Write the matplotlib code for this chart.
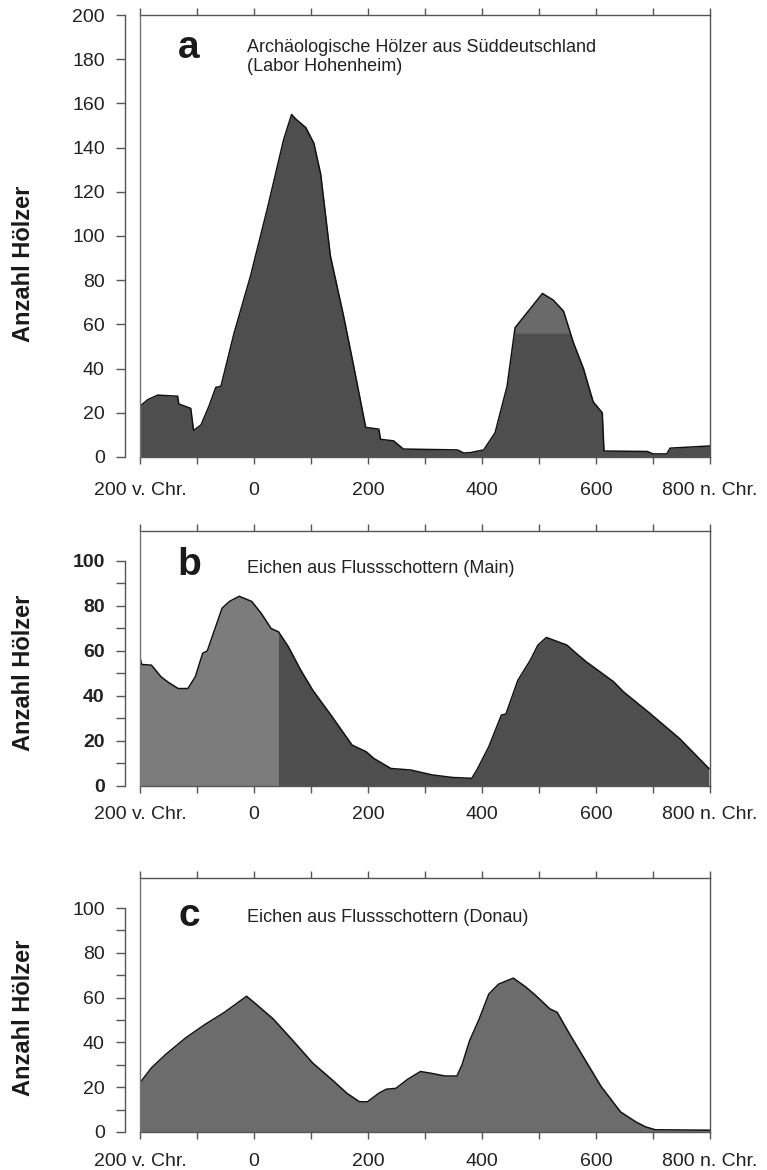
import numpy as np
import matplotlib
matplotlib.use("Agg")
import matplotlib.pyplot as plt
from matplotlib.ticker import MultipleLocator, FixedLocator

plt.rcParams['font.family'] = ['Liberation Sans', 'DejaVu Sans']

# ---------------- data ----------------
years_a = [-200, -186, -169, -134, -132, -111, -106, -93, -79, -67, -58, -35, -6, 24, 52,
           66, 73, 91, 105, 117, 134, 157, 175, 196, 219, 222, 245, 262, 357, 368, 380,
           403, 423, 444, 458, 506, 525, 543, 560, 578, 595, 611, 614, 690, 700, 724,
           730, 800]
count_a = [23, 26, 28, 27.5, 24, 22, 12, 14.5, 23, 31.5, 32, 56, 82, 113, 143.6,
           155, 153, 149, 142, 128, 91, 64, 41, 13.4, 12.6, 8, 7.3, 3.6, 3.2, 1.8, 2,
           3.2, 11, 32, 58.5, 74, 71, 66, 52, 40, 25, 20, 2.7, 2.5, 1.4, 1.4,
           4, 5]

years_b = [-200, -197, -180, -163, -150, -133, -116, -103, -90, -82, -56, -43, -26, -4,
           13, 30, 43, 60, 82, 103, 137, 172, 197, 210, 240, 275, 313, 348, 382, 391,
           412, 434, 442, 463, 485, 498, 513, 549, 571, 584, 631, 648, 695, 747, 798]
count_b = [57, 54, 53.7, 48.5, 46, 43.3, 43.3, 48.5, 59, 60, 79, 82, 84.3, 82,
           76.6, 70, 68.5, 62, 51.5, 42.6, 30.8, 18.2, 15.2, 12.3, 7.8, 7.1, 4.9, 3.8, 3.4, 7.1,
           17.5, 31.5, 32, 47, 56, 62.6, 66, 62.6, 57.7, 55, 46.3, 41.9, 32.2, 21, 7.8]

years_c = [-200, -180, -155, -120, -86, -52, -13, 4, 34, 69, 103, 137, 163, 185, 199,
           219, 232, 249, 270, 292, 309, 335, 356, 365, 378, 395, 412, 429, 455, 477,
           494, 519, 532, 554, 579, 609, 643, 670, 687, 704, 800]
count_c = [22, 28.6, 34.6, 42, 48, 53.4, 60.6, 57, 50.4, 40.6, 30.8, 23.3, 17.3, 13.5, 13.5,
           17.3, 19.1, 19.5, 23.6, 27, 26.3, 25, 25, 30, 40.6, 50.4, 61.6, 66, 68.7, 64.7,
           61, 55, 53.4, 43.6, 33, 20.3, 9, 4.5, 2.3, 1, 0.8]

xtick_vals = [-200, 0, 200, 400, 600, 800]
xtick_labels = ["200 v. Chr.", "0", "200", "400", "600", "800 n. Chr."]

panel_letters = ["a", "b", "c"]
panel_titles = ["Archäologische Hölzer aus Süddeutschland\n(Labor Hohenheim)",
                "Eichen aus Flussschottern (Main)",
                "Eichen aus Flussschottern (Donau)"]
ylabel = "Anzahl Hölzer"

# ---------------- figure ----------------
W, H = 767, 1170
fig = plt.figure(figsize=(W / 100, H / 100), dpi=100)
fig.patch.set_facecolor("white")

def rect(top_px, bottom_px, left_px=140, right_px=710):
    return [left_px / W, 1 - bottom_px / H, (right_px - left_px) / W, (bottom_px - top_px) / H]

ax_a = fig.add_axes(rect(15, 457))
ax_b = fig.add_axes(rect(531, 786))
ax_c = fig.add_axes(rect(878, 1132))

DARK = "#4e4e4e"
MID = "#6c6c6c"
LIGHT = "#7c7c7c"

def style_axes(ax, ymax_axis, ymax_view, ymajor, yminor, xpad, ybold=False):
    ax.set_xlim(-200, 800)
    ax.set_ylim(0, ymax_view)
    ax.set_facecolor("white")
    for s in ["top", "right", "bottom"]:
        ax.spines[s].set_color("#555555")
        ax.spines[s].set_linewidth(1.0)
    ax.spines["left"].set_position(("outward", 15 * 72 / 100))
    ax.spines["left"].set_bounds(0, ymax_axis)
    ax.spines["left"].set_color("#555555")
    ax.spines["left"].set_linewidth(1.0)
    ax.axvline(-200, color="#777777", lw=1.0, clip_on=False, zorder=5)
    ax.set_yticks(np.arange(0, ymax_axis + 1, ymajor))
    if yminor:
        ax.yaxis.set_minor_locator(FixedLocator(np.arange(0, ymax_axis + 1, yminor)))
    ax.set_xticks(xtick_vals)
    ax.set_xticklabels(xtick_labels)
    ax.xaxis.set_minor_locator(MultipleLocator(100))
    ax.tick_params(axis="y", which="both", direction="out", length=6.5, width=1.0,
                   color="#555555", labelsize=14, pad=8)
    ax.tick_params(axis="x", which="both", direction="out", length=5, width=1.0,
                   color="#555555", labelsize=14, pad=xpad, top=True)
    ax.tick_params(axis="x", which="both", top=True, labeltop=False)
    for lab in ax.get_yticklabels():
        lab.set_color("#222222")
        if ybold:
            lab.set_fontweight("bold")
    for lab in ax.get_xticklabels():
        lab.set_color("#222222")

# panel a
xa = np.array(years_a, float); ya = np.array(count_a, float)
ax_a.fill_between(xa, 0, ya, color=DARK, lw=0, zorder=2)
ax_a.fill_between(xa, 56, ya, where=(ya > 56) & (xa > 400), interpolate=True,
                  color="#6a6a6a", lw=0, zorder=2.5)
ax_a.plot(xa, ya, color="#111111", lw=1.1, zorder=3)
style_axes(ax_a, 200, 200, 20, None, 13)

# panel b
xb = np.array(years_b, float); yb = np.array(count_b, float)
ax_b.fill_between(xb, 0, yb, where=xb <= 45, interpolate=True, color=LIGHT, lw=0, zorder=2)
ax_b.fill_between(xb, 0, yb, where=xb >= 43, interpolate=True, color=DARK, lw=0, zorder=2)
ax_b.plot(xb, yb, color="#111111", lw=1.1, zorder=3)
style_axes(ax_b, 100, 113.3, 20, 10, 9.5, ybold=True)

# panel c
xc = np.array(years_c, float); yc = np.array(count_c, float)
ax_c.fill_between(xc, 0, yc, color=MID, lw=0, zorder=2)
ax_c.plot(xc, yc, color="#111111", lw=1.1, zorder=3)
style_axes(ax_c, 100, 113.4, 20, 10, 10)

# letters and titles
for ax, letter, title, ly, ty in [(ax_a, "a", panel_titles[0], 48, 57),
                                  (ax_b, "b", panel_titles[1], 565, 568),
                                  (ax_c, "c", panel_titles[2], 916, 918)]:
    fig.text(189 / W, 1 - ly / H, letter, fontsize=28, fontweight="bold",
             ha="center", va="center", color="#1a1a1a")
    fig.text(247 / W, 1 - ty / H, title, fontsize=13, ha="left", va="center",
             color="#222222", linespacing=1.2)

# y labels
for cy in [264, 673, 1018]:
    fig.text(24 / W, 1 - cy / H, ylabel, rotation=90, fontsize=17, fontweight="bold",
             ha="center", va="center", color="#1a1a1a")

fig.savefig("out.png", dpi=100, facecolor="white")
